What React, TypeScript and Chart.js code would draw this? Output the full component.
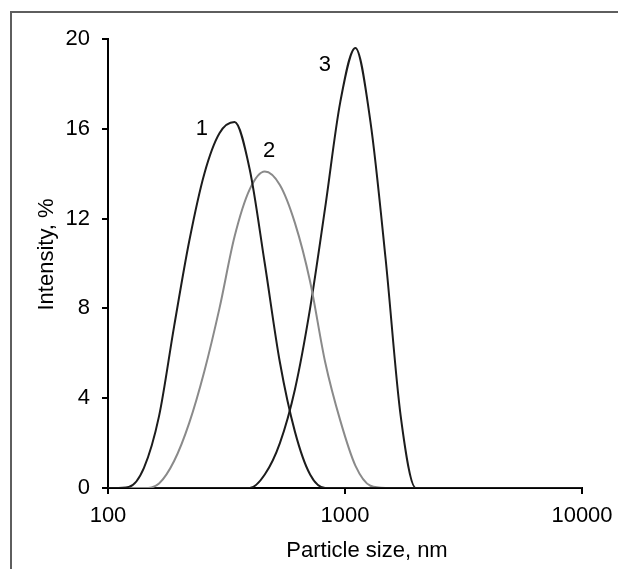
import React, { useEffect, useRef } from "react";
import { Chart, registerables } from "chart.js";

Chart.register(...registerables);

// Particle size bins (nm), log-spaced
const sizes = [
  91.28, 105.7, 122.4, 141.8, 164.2, 190.1, 220.2, 255.0, 295.3, 342.0, 396.1,
  458.7, 531.2, 615.1, 712.4, 825.0, 955.4, 1106, 1281, 1484, 1718, 1990, 2305,
  2669, 3091, 3580, 4145, 4801, 5560, 6439, 7456, 8635, 10000,
];

// Intensity, % for each sample
const series1 = [
  0, 0, 0.05, 0.9, 3.2, 7.2, 11.0, 14.0, 15.8, 16.3, 14.2,
  10.0, 5.6, 2.5, 0.6, 0, 0, 0, 0, 0, 0, 0, 0,
  0, 0, 0, 0, 0, 0, 0, 0, 0, 0,
];
const series2 = [
  0, 0, 0, 0, 0.2, 1.2, 2.9, 5.2, 8.0, 11.2, 13.3,
  14.1, 13.5, 11.8, 9.2, 5.6, 3.0, 1.0, 0.1, 0, 0, 0, 0,
  0, 0, 0, 0, 0, 0, 0, 0, 0, 0,
];
const series3 = [
  0, 0, 0, 0, 0, 0, 0, 0, 0, 0, 0,
  0.6, 2.0, 4.4, 8.0, 12.5, 17.2, 19.6, 16.3, 10.2, 3.2, 0, 0,
  0, 0, 0, 0, 0, 0, 0, 0, 0, 0,
];

const seriesNames = ["1", "2", "3"];
const seriesColors = ["#1c1c1c", "#8a8a8a", "#1c1c1c"];

// curve labels (x in nm, y in %)
const labelText = ["1", "2", "3"];
const labelX = [249, 478, 823];
const labelY = [16.0, 15.0, 18.85];

const xTicks = [100, 1000, 10000];
const yTicks = [0, 4, 8, 12, 16, 20];

const xTitle = "Particle size, nm";
const yTitle = "Intensity, %";

const FONT = "'Liberation Sans', Arial, sans-serif";
const FS = 22;

export default function App() {
  const ref = useRef<HTMLCanvasElement | null>(null);

  useEffect(() => {
    document.body.style.margin = "0";
    document.body.style.overflow = "hidden";
    const canvas = ref.current;
    if (!canvas) return;

    const all = [series1, series2, series3];
    const datasets = all.map((s, i) => ({
      label: seriesNames[i],
      data: sizes.map((x, j) => ({ x, y: s[j] })),
      borderColor: seriesColors[i],
      borderWidth: 2,
      pointRadius: 0,
      cubicInterpolationMode: "monotone" as const,
      fill: false,
    }));

    const overlay = {
      id: "overlay",
      afterDraw(chart: any) {
        const ctx = chart.ctx;
        const xs = chart.scales.x;
        const ys = chart.scales.y;
        const area = chart.chartArea;
        ctx.save();
        // frame (left and top edges)
        ctx.strokeStyle = "#5e5e5e";
        ctx.lineWidth = 2;
        ctx.beginPath();
        ctx.moveTo(11, 569);
        ctx.lineTo(11, 11);
        ctx.stroke();
        ctx.beginPath();
        ctx.moveTo(10, 12);
        ctx.lineTo(618, 12);
        ctx.stroke();

        ctx.fillStyle = "#000";
        ctx.font = `${FS}px ${FONT}`;
        ctx.textAlign = "center";
        ctx.textBaseline = "middle";
        for (let i = 0; i < labelText.length; i++) {
          ctx.fillText(
            labelText[i],
            xs.getPixelForValue(labelX[i]),
            ys.getPixelForValue(labelY[i])
          );
        }
        // axis titles
        ctx.fillText(xTitle, 367, 551);
        ctx.save();
        ctx.translate(47, (area.top + area.bottom) / 2 - 9);
        ctx.rotate(-Math.PI / 2);
        ctx.fillText(yTitle, 0, 0);
        ctx.restore();
        ctx.restore();
      },
    };

    const chart = new Chart(canvas, {
      type: "line",
      data: { datasets },
      plugins: [overlay],
      options: {
        animation: false,
        responsive: false,
        devicePixelRatio: 1,
        layout: { padding: { top: 39, right: 36, bottom: 0, left: 0 } },
        plugins: {
          legend: { display: false },
          tooltip: { enabled: false },
        },
        scales: {
          x: {
            type: "logarithmic",
            min: 100,
            max: 10000,
            afterFit(scale: any) {
              scale.height = 81;
              scale.paddingLeft = 0;
              scale.paddingRight = 0;
            },
            afterBuildTicks(scale: any) {
              scale.ticks = xTicks.map((v) => ({ value: v }));
            },
            ticks: {
              color: "#000",
              font: { family: FONT, size: FS },
              padding: 9,
              maxRotation: 0,
              autoSkip: false,
              callback: (v: any) => String(v),
            },
            grid: {
              drawOnChartArea: false,
              drawTicks: true,
              tickLength: 6,
              color: "#000",
              lineWidth: 2,
            },
            border: { display: true, color: "#000", width: 2 },
          },
          y: {
            type: "linear",
            min: 0,
            max: 20,
            afterFit(scale: any) {
              scale.width = 108;
              scale.paddingTop = 0;
              scale.paddingBottom = 0;
            },
            afterBuildTicks(scale: any) {
              scale.ticks = yTicks.map((v) => ({ value: v }));
            },
            ticks: {
              color: "#000",
              font: { family: FONT, size: FS },
              padding: 12,
              callback: (v: any) => String(v),
            },
            grid: {
              drawOnChartArea: false,
              drawTicks: true,
              tickLength: 6,
              color: "#000",
              lineWidth: 2,
            },
            border: { display: true, color: "#000", width: 2 },
          },
        },
      },
    });
    return () => chart.destroy();
  }, []);

  return (
    <div style={{ width: 618, height: 569, background: "#fff", overflow: "hidden" }}>
      <canvas ref={ref} width={618} height={569} style={{ display: "block" }} />
    </div>
  );
}
